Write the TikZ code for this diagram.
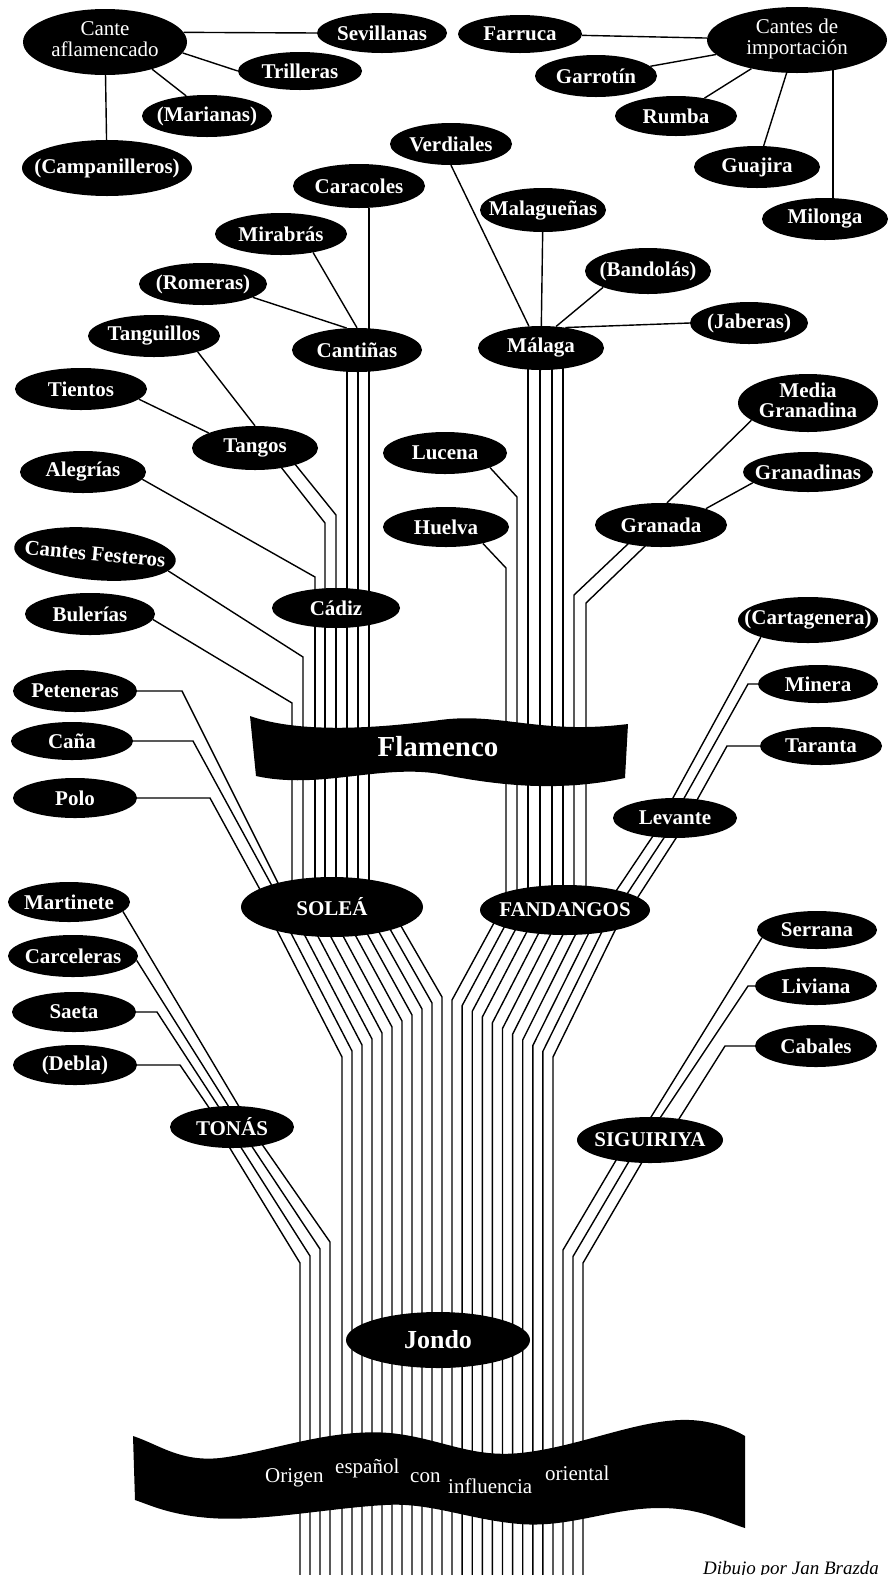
\documentclass[tikz,border=0pt]{standalone}
\usepackage{fontspec}
\setmainfont{Liberation Serif}
\usetikzlibrary{shapes.geometric, calc, backgrounds}

\newcommand\pair[2]{\begin{tabular}{@{}c@{}}#1\\#2\end{tabular}}

\tikzset{
    oval/.style={ellipse, fill=black, text=white, inner xsep=-80pt, inner ysep=0pt,
        font=\bfseries\fontsize{21}{20}\selectfont},
    wh/.style 2 args={minimum width=#1pt, minimum height=#2pt},
    lightface/.style={font=\fontsize{21}{20}\selectfont},
    strand/.style={line width=1.4pt},
    flagword/.style={text=white, inner sep=0pt, anchor=base west, font=\fontsize{21}{21}\selectfont},
}

\begin{document}
\begin{tikzpicture}[x=1pt, y=-1pt]
    \useasboundingbox (0,0) rectangle (892,1575);

    % Cante aflamencado and Cantes de importacion
    \node[oval, lightface, wh={164}{66}] (cante) at (105,42) {\pair{Cante}{aflamencado}};
    \node[oval, wh={130}{40}] (sevillanas) at (382,33) {Sevillanas};
    \node[oval, wh={124}{38}] (trilleras) at (300,71) {Trilleras};
    \node[oval, wh={130}{42}] (marianas) at (207,116) {(Marianas)};
    \node[oval, wh={170}{56}] (campanilleros) at (107,168) {(Campanilleros)};
    \node[oval, wh={124}{38}] (farruca) at (520,34) {Farruca};
    \node[oval, lightface, wh={180}{66}] (importacion) at (797,40) {\pair{Cantes de}{importación}};
    \node[oval, wh={122}{42}] (garrotin) at (596,76) {Garrotín};
    \node[oval, wh={122}{40}] (rumba) at (676,116) {Rumba};
    \node[oval, wh={126}{42}] (guajira) at (757,167) {Guajira};
    \node[oval, wh={126}{42}] (milonga) at (825,219) {Milonga};

    % Cadiz branch
    \node[oval, wh={132}{44}] (caracoles) at (359,186) {Caracoles};
    \node[oval, wh={132}{42}] (mirabras) at (281,234) {Mirabrás};
    \node[oval, wh={128}{42}] (romeras) at (203,284) {(Romeras)};
    \node[oval, wh={130}{44}] (cantinas) at (357,350) {Cantiñas};
    \node[oval, wh={132}{42}] (tanguillos) at (154,336) {Tanguillos};
    \node[oval, wh={132}{42}] (tientos) at (81,389) {Tientos};
    \node[oval, wh={126}{44}] (tangos) at (255,448) {Tangos};
    \node[oval, wh={126}{42}] (alegrias) at (83,472) {Alegrías};
    \node[oval, wh={162}{52}, rotate=-5] (festeros) at (95,554) {Cantes Festeros};
    \node[oval, wh={130}{42}] (bulerias) at (90,614) {Bulerías};
    \node[oval, wh={128}{40}] (cadiz) at (336,608) {Cádiz};

    % Malaga, Granada, Levante
    \node[oval, wh={122}{42}] (verdiales) at (451,144) {Verdiales};
    \node[oval, wh={126}{44}] (malaguenas) at (543,210) {Malagueñas};
    \node[oval, wh={126}{46}] (bandolas) at (648,271) {(Bandolás)};
    \node[oval, wh={118}{42}] (jaberas) at (749,323) {(Jaberas)};
    \node[oval, wh={126}{44}] (malaga) at (541,348) {Málaga};
    \node[oval, wh={124}{42}] (lucena) at (445,453) {Lucena};
    \node[oval, wh={126}{40}] (huelva) at (446,527) {Huelva};
    \node[oval, wh={140}{58}, font=\bfseries\fontsize{21}{17}\selectfont] (mediagranadina) at (808,403) {\pair{Media}{Granadina}};
    \node[oval, wh={130}{40}] (granadinas) at (808,472) {Granadinas};
    \node[oval, wh={132}{44}] (granada) at (661,525) {Granada};
    \node[oval, wh={140}{46}] (cartagenera) at (808,620) {(Cartagenera)};
    \node[oval, wh={120}{38}] (minera) at (818,684) {Minera};
    \node[oval, wh={122}{38}] (taranta) at (821,746) {Taranta};
    \node[oval, wh={124}{40}] (levante) at (675,818) {Levante};

    % Solea and Fandangos
    \node[oval, wh={124}{42}] (peteneras) at (75,691) {Peteneras};
    \node[oval, wh={122}{38}] (cana) at (72,741) {Caña};
    \node[oval, wh={124}{40}] (polo) at (75,798) {Polo};
    \node[oval, wh={182}{60}] (solea) at (332,907) {SOLEÁ};
    \node[oval, wh={170}{50}] (fandangos) at (565,910) {FANDANGOS};

    % Tonas and Siguiriya
    \node[oval, wh={122}{40}] (martinete) at (69,902) {Martinete};
    \node[oval, wh={130}{42}] (carceleras) at (73,956) {Carceleras};
    \node[oval, wh={124}{40}] (saeta) at (74,1012) {Saeta};
    \node[oval, wh={124}{40}] (debla) at (75,1065) {(Debla)};
    \node[oval, wh={124}{42}] (tonas) at (232,1127) {TONÁS};
    \node[oval, wh={120}{38}] (serrana) at (817,930) {Serrana};
    \node[oval, wh={122}{38}] (liviana) at (816,986) {Liviana};
    \node[oval, wh={122}{42}] (cabales) at (816,1046) {Cabales};
    \node[oval, wh={146}{46}] (siguiriya) at (650,1140) {SIGUIRIYA};
    \node[oval, wh={184}{56}, font=\bfseries\fontsize{26}{26}\selectfont] (jondo) at (438,1340) {Jondo};

    % Flamenco banner
    \fill (250,716) .. controls (300,734) and (380,728) .. (440,720)
        .. controls (500,712) and (540,735) .. (628,724) -- (625,778)
        .. controls (560,792) and (500,786) .. (440,774)
        .. controls (380,764) and (320,790) .. (256,776) -- cycle;
    \node[text=white, font=\bfseries\fontsize{29}{29}\selectfont] (flamenco) at (438,747) {Flamenco};

    % Origen banner
    \fill (133,1436) .. controls (160,1445) and (180,1462) .. (220,1458)
        .. controls (270,1452) and (330,1428) .. (390,1433)
        .. controls (440,1438) and (470,1458) .. (520,1453)
        .. controls (580,1447) and (640,1418) .. (690,1420)
        .. controls (715,1421) and (735,1430) .. (745,1436) -- (745,1528)
        .. controls (720,1520) and (700,1508) .. (660,1508)
        .. controls (610,1508) and (570,1528) .. (520,1524)
        .. controls (470,1520) and (430,1502) .. (385,1505)
        .. controls (330,1508) and (260,1522) .. (210,1518)
        .. controls (170,1515) and (150,1505) .. (135,1500) -- cycle;
    \node[flagword] (origen) at (265,1482) {Origen};
    \node[flagword] (espanol) at (335,1473) {español};
    \node[flagword] (con) at (410,1482) {con};
    \node[flagword] (influencia) at (448,1493) {influencia};
    \node[flagword] (oriental) at (545,1480) {oriental};

    \node[anchor=base west, inner sep=0pt, font=\itshape\fontsize{19}{19}\selectfont] (credit) at (703,1574) {Dibujo por Jan Brazda};

    \begin{pgfonlayer}{background}
    \begin{scope}[strand]
        % top fans
        \draw (cante.7) -- (sevillanas.west);
        \draw (cante.-8) -- (trilleras.west);
        \draw (cante.-30) -- (marianas.136);
        \draw (cante) -- (campanilleros);
        \draw (farruca) -- (importacion);
        \draw (garrotin) -- (importacion);
        \draw (rumba) -- (importacion);
        \draw (guajira) -- (importacion);
        \draw ($(milonga.north)+(8,0)$) -- ($(importacion)+(36,0)$);

        % into Cantinas and Tangos
        \draw ($(caracoles.south)+(10,0)$) -- ($(cantinas)+(12,0)$);
        \draw (mirabras.-30) -- (cantinas.north);
        \draw (romeras.-15) -- (cantinas.115);
        \draw (tientos.-10) -- (tangos.162);
        \draw (tanguillos.-20) -- (tangos.north);

        % into Cadiz
        \foreach \dx in {-10,1,12}
            \draw ($(cantinas)+(\dx,0)$) -- ($(cadiz)+({\dx+21},0)$);
        \draw ($(tangos)+(11,0)$) -- (325,523) -- ($(cadiz)+(-11,0)$);
        \draw ($(tangos)+(27,0)$) -- (336,515) -- (cadiz.center);
        \draw (alegrias.-7) -- (315,577) -- ($(cadiz)+(-21,0)$);

        % into Solea
        \foreach \dx in {-21,-11,0,11,22,33}
            \draw ($(cadiz)+(\dx,0)$) -- ($(solea)+({\dx+4},0)$);
        \draw (festeros.-8) -- (303,657) -- ($(solea)+(-29,0)$);
        \draw (bulerias.-5) -- (292,703) -- ($(solea)+(-40,0)$);
        \draw (peteneras.east) -- (182,691) -- ($(solea)+(-48,-12)$);
        \draw (cana.east) -- (193,741) -- ($(solea)+(-55,-12)$);
        \draw (polo.east) -- (210,798) -- ($(solea)+(-69,-12)$);

        % Solea down to Jondo
        \foreach \i in {0,...,10}
            \draw ($(solea)+({-67+12.5*\i},0)$) -- ({342+10*\i},{1057-6*\i}) -- ({342+10*\i},1580);

        % into Malaga and Granada
        \draw (verdiales.south) -- (malaga.119);
        \draw (malaguenas) -- (malaga);
        \draw (bandolas.200) -- (malaga.55);
        \draw (jaberas.west) -- (malaga.40);
        \draw (mediagranadina.197) -- (granada.75);
        \draw (granadinas.191) -- (granada.20);

        % into Fandangos
        \foreach \dx in {-13,-1,11,22}
            \draw ($(malaga)+(\dx,0)$) -- ($(fandangos)+({\dx-24},0)$);
        \draw (lucena.-18) -- (517,497) -- ($(fandangos)+(-48,0)$);
        \draw (huelva.-24) -- (506,568) -- ($(fandangos)+(-59,0)$);
        \draw ($(granada)+(-13,0)$) -- (574,595) -- ($(fandangos)+(9,0)$);
        \draw ($(granada)+(6,0)$) -- (586,603) -- ($(fandangos)+(21,0)$);

        % Levante
        \draw (cartagenera.200) -- ($(levante)+(-13,0)$);
        \draw (minera.west) -- (748,684) -- ($(levante)+(-2,0)$);
        \draw (taranta.west) -- (727,746) -- ($(levante)+(12,0)$);
        \foreach \k in {0,1,2}
            \draw ($(levante)+({-10+12*\k},0)$) -- ($(fandangos)+({45+13*\k},-10)$);

        % Fandangos down to Jondo
        \foreach \j in {0,...,10}
            \draw ($(fandangos)+({-64+12.4*\j},0)$) -- ({452+10.1*\j},{1000+5.7*\j}) -- ({452+10.1*\j},1580);

        % Tonas
        \draw (martinete.-10) -- ($(tonas)+(12,-12)$);
        \draw (carceleras.-4) -- ($(tonas)+(2,-12)$);
        \draw (saeta.east) -- (157,1012) -- ($(tonas)+(-8,-12)$);
        \draw (debla.east) -- (180,1065) -- ($(tonas)+(-18,-12)$);
        \foreach \k in {0,...,3}
            \draw ($(tonas)+({-15+11*\k},0)$) -- ({300+10*\k},{1263-7*\k}) -- ({300+10*\k},1580);

        % Siguiriya
        \draw (serrana.188) -- ($(siguiriya)+(-7,-10)$);
        \draw (liviana.west) -- (748,986) -- ($(siguiriya)+(2,-10)$);
        \draw (cabales.west) -- (725,1046) -- ($(siguiriya)+(22,-10)$);
        \foreach \k in {0,1,2}
            \draw ($(siguiriya)+({-22+13.5*\k},0)$) -- ({563+10*\k},{1250+6.5*\k}) -- ({563+10*\k},1580);
    \end{scope}
    \end{pgfonlayer}
\end{tikzpicture}
\end{document}
